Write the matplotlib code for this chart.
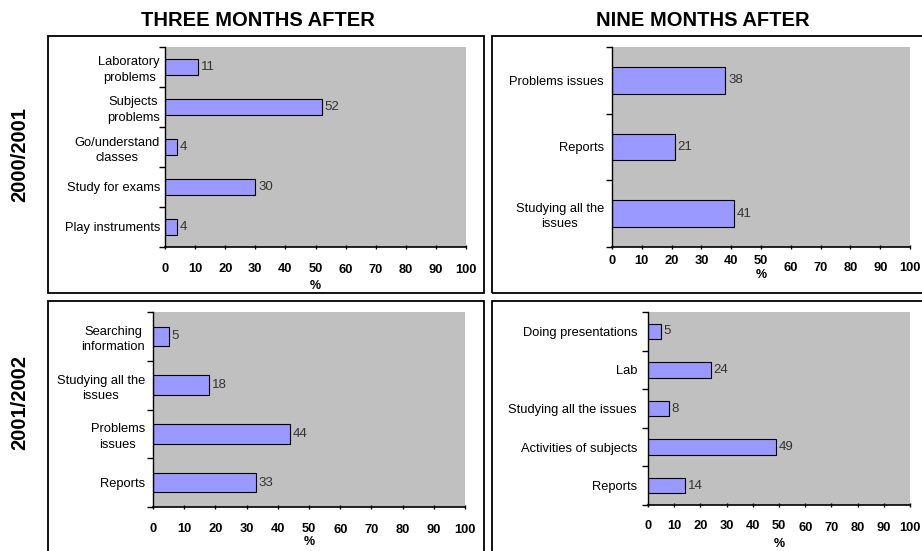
import matplotlib
matplotlib.use("Agg")
import matplotlib.pyplot as plt
from matplotlib.patches import Rectangle
from matplotlib.transforms import ScaledTranslation

# Data
col_titles = ["THREE MONTHS AFTER", "NINE MONTHS AFTER"]
row_titles = ["2000/2001", "2001/2002"]

three_0001_labels = ["Laboratory\nproblems", "Subjects\nproblems", "Go/understand\nclasses",
                     "Study for exams", "Play instruments"]
three_0001_values = [11, 52, 4, 30, 4]

nine_0001_labels = ["Problems issues", "Reports", "Studying all the\nissues"]
nine_0001_values = [38, 21, 41]

three_0102_labels = ["Searching\ninformation", "Studying all the\nissues", "Problems\nissues", "Reports"]
three_0102_values = [5, 18, 44, 33]

nine_0102_labels = ["Doing presentations", "Lab", "Studying all the issues",
                    "Activities of subjects", "Reports"]
nine_0102_values = [5, 24, 8, 49, 14]

x_ticks = [0, 10, 20, 30, 40, 50, 60, 70, 80, 90, 100]

W, H = 922, 551
plt.rcParams['font.family'] = ['Liberation Sans', 'DejaVu Sans']
fig = plt.figure(figsize=(W / 100, H / 100), dpi=100)


def px_rect(l, t, r, b):
    return [l / W, 1 - b / H, (r - l) / W, (b - t) / H]


# panel frames
for l, t, r, b in [(48, 36, 484, 293), (492, 36, 930, 293),
                   (48, 301, 484, 560), (492, 301, 930, 560)]:
    fig.patches.append(Rectangle((l / W, 1 - b / H), (r - l) / W, (b - t) / H,
                                 transform=fig.transFigure, fill=False,
                                 edgecolor='black', lw=1.3))

# axes rect, labels, values, tick pad, stagger of 60..100, label gap, % pad
panels = [
    (px_rect(165, 47, 466, 247), three_0001_labels, three_0001_values, 10, 1, 5, 2.5),
    (px_rect(612, 47, 910, 247), nine_0001_labels, nine_0001_values, 4, 5, 8, -3),
    (px_rect(153, 312, 465, 507), three_0102_labels, three_0102_values, 10, 1, 8, 0),
    (px_rect(648, 312, 910, 505), nine_0102_labels, nine_0102_values, 9.5, 1.5, 11, 2.5),
]

for rect, labels, values, pad, stagger, ygap, lpad in panels:
    ax = fig.add_axes(rect)
    n = len(values)
    ypos = [n - 1 - i for i in range(n)]
    ax.set_facecolor('#C0C0C0')
    ax.barh(ypos, values, height=0.4, color='#9999FF', edgecolor='black', lw=0.8)
    for y, v in zip(ypos, values):
        ax.annotate(str(v), (v, y), xytext=(2, 0), textcoords='offset points',
                    va='center', ha='left', fontsize=9.5, color='#333333')
    ax.set_xlim(0, 100)
    ax.set_ylim(-0.5, n - 0.5)
    ax.set_yticks(ypos)
    ax.set_yticklabels(labels, fontsize=9.3, multialignment='center', linespacing=1.35)
    ax.set_yticks([i - 0.5 for i in range(n + 1)], minor=True)
    ax.tick_params(axis='y', which='major', length=0, pad=ygap / 1.39)
    ax.tick_params(axis='y', which='minor', length=4, width=1, direction='out')
    ax.set_xticks(x_ticks)
    ax.set_xticklabels([str(t) for t in x_ticks], fontsize=9.3, fontweight='bold')
    ax.tick_params(axis='x', length=3, width=1, direction='inout', pad=pad)
    for t, lab in zip(x_ticks, ax.get_xticklabels()):
        if t > 50:
            lab.set_transform(lab.get_transform() +
                              ScaledTranslation(0, -stagger / 72, fig.dpi_scale_trans))
    ax.set_xlabel('%', fontsize=9, fontweight='bold', labelpad=lpad)
    ax.spines['top'].set_visible(False)
    ax.spines['right'].set_visible(False)
    ax.spines['left'].set_linewidth(1)
    ax.spines['bottom'].set_linewidth(1.2)

fig.text(258 / W, 1 - 20 / H, col_titles[0], ha='center', va='center',
         fontsize=14.5, fontweight='bold')
fig.text(703 / W, 1 - 20 / H, col_titles[1], ha='center', va='center',
         fontsize=14.5, fontweight='bold')
fig.text(20 / W, 1 - 155 / H, row_titles[0], ha='center', va='center',
         rotation=90, fontsize=14.5, fontweight='bold')
fig.text(20 / W, 1 - 402 / H, row_titles[1], ha='center', va='center',
         rotation=90, fontsize=14.5, fontweight='bold')

fig.savefig('out.png', dpi=100)
